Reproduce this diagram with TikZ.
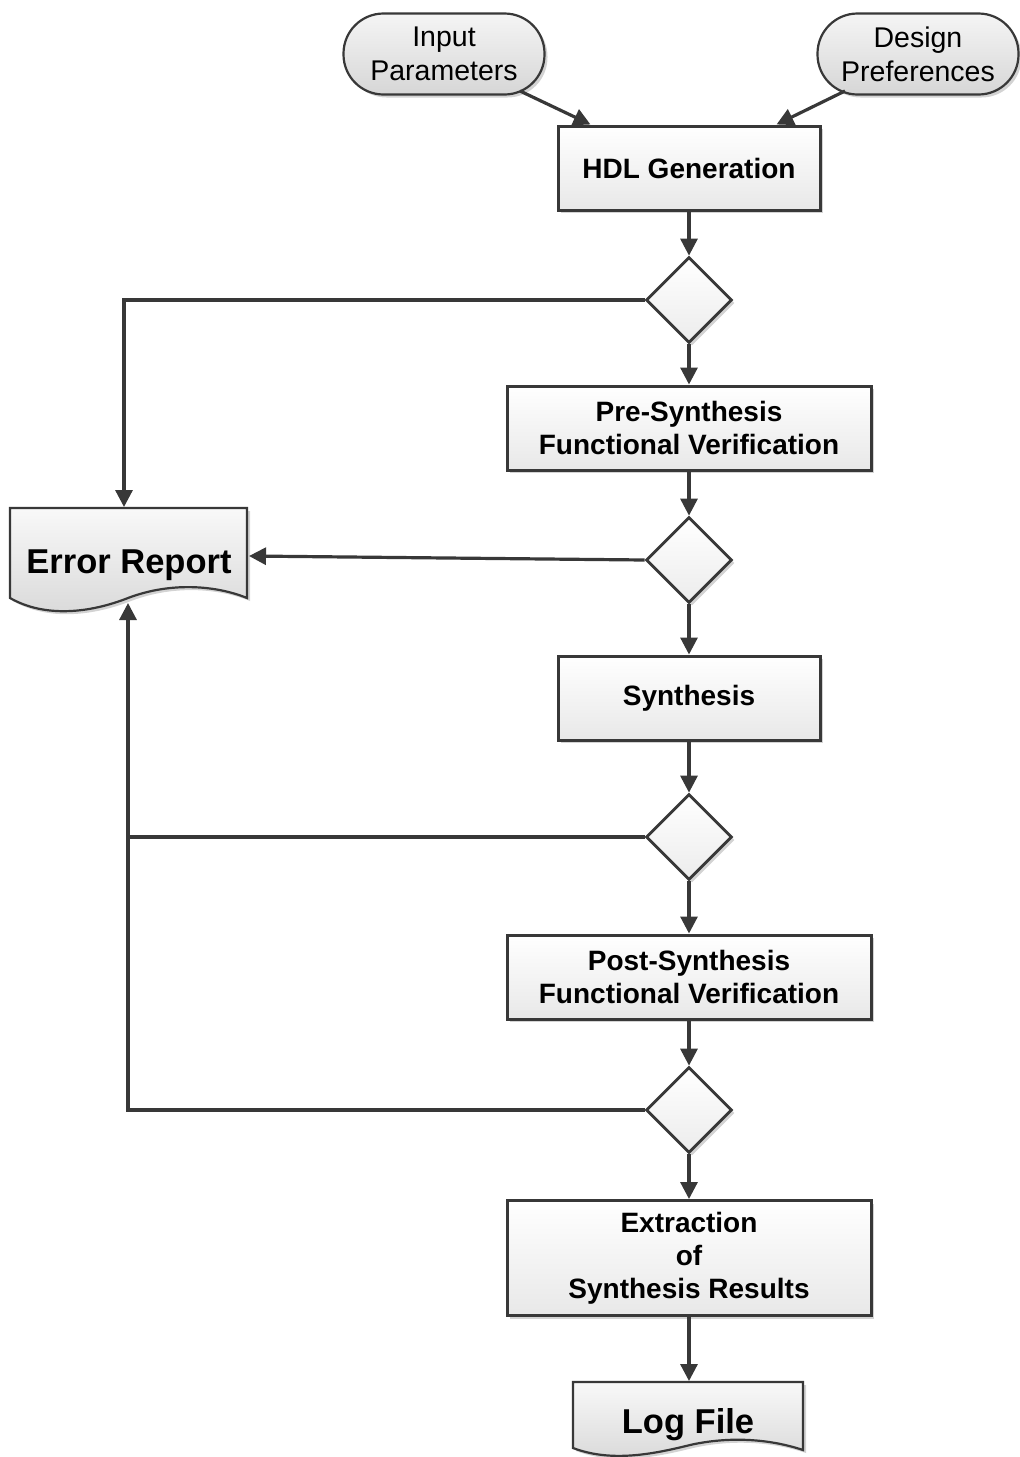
\documentclass[tikz,border=0pt]{standalone}
\usepackage{fontspec}
\setmainfont{Liberation Sans}
\usetikzlibrary{shapes.geometric,shadows,arrows.meta,calc}
\definecolor{ln}{HTML}{383838}
\begin{document}
\begin{tikzpicture}[x=1pt,y=-1pt,
  conn/.style={draw=ln, line width=3.2pt, -{Triangle[length=17pt,width=17pt]}},
  plainconn/.style={draw=ln, line width=3.2pt},
  shad/.style={drop shadow={opacity=0.35,shadow xshift=3pt,shadow yshift=-3pt}},
  procbox/.style={draw=ln, line width=3pt, top color=white, bottom color=gray!18, shad,
     align=center, inner sep=0pt, font=\fontsize{28}{33}\selectfont\bfseries},
  term/.style={draw=ln, line width=2.2pt, rounded corners=40pt, top color=gray!8, bottom color=gray!32, shad,
     align=center, inner sep=0pt, minimum width=201pt, minimum height=81pt, font=\fontsize{28.5}{34}\selectfont},
  decision/.style={diamond, aspect=1, draw=ln, line width=2.8pt, top color=white, bottom color=gray!15, shad,
     minimum width=86pt, minimum height=86pt, inner sep=0pt},
  docshape/.style={draw=ln, line width=2.2pt, top color=gray!5, bottom color=gray!30, shad},
  bigtext/.style={font=\fontsize{34.5}{40}\selectfont\bfseries}
]
\useasboundingbox (0,0) rectangle (1020,1457);

% terminals
\node[term] (inp) at (444,54) {Input\\Parameters};
\node[term] (pref) at (918,54) {Design\\Preferences};

% process boxes
\node[procbox, minimum width=262pt, minimum height=84pt] (hdl) at (689,168) {HDL Generation};
\node[decision] (d1) at (689,300) {};
\node[procbox, minimum width=364pt, minimum height=84pt] (pre) at (689,428) {Pre-Synthesis\\Functional Verification};
\node[decision] (d2) at (689,560) {};
\node[procbox, minimum width=262pt, minimum height=84pt] (syn) at (689,698) {Synthesis};
\node[decision] (d3) at (689,837) {};
\node[procbox, minimum width=364pt, minimum height=84pt] (post) at (689,977) {Post-Synthesis\\Functional Verification};
\node[decision] (d4) at (689,1110) {};
\node[procbox, minimum width=364pt, minimum height=115pt] (ext) at (689,1258) {Extraction\\of\\Synthesis Results};

% document shapes
\path[docshape] (10,508) -- (247,508) -- (247,598)
   .. controls (215,585) and (170,582) .. (128,598)
   .. controls (90,613) and (45,618) .. (10,598) -- cycle;
\node[bigtext] (err) at (129,565) {Error Report};
\coordinate (errT) at (124,507);
\coordinate (errE) at (249,556);
\coordinate (errB) at (128,603);

\path[docshape] (573,1382) -- (803,1382) -- (803,1450)
   .. controls (770,1439) and (730,1436) .. (690,1445)
   .. controls (650,1455) and (610,1462) .. (573,1448) -- cycle;
\node[bigtext] (log) at (688,1425) {Log File};
\coordinate (logT) at (689,1381);

% connectors
\draw[conn] ($(inp.center)+(76,37)$) -- ($(hdl.north west)+(34,0)$);
\draw[conn] ($(pref.center)+(-73,37)$) -- ($(hdl.north east)+(-45,0)$);
\draw[conn] (hdl.south) -- (d1.north);
\draw[conn] (d1.south) -- (pre.north);
\draw[conn] (pre.south) -- (d2.north);
\draw[conn] (d2.south) -- (syn.north);
\draw[conn] (syn.south) -- (d3.north);
\draw[conn] (d3.south) -- (post.north);
\draw[conn] (post.south) -- (d4.north);
\draw[conn] (d4.south) -- (ext.north);
\draw[conn] (ext.south) -- (logT);

\draw[conn] (d1.west) -| (errT);
\draw[conn] (d2.west) -- (errE);
\draw[conn] (d3.west) -| (errB);
\coordinate (j3) at (128,837);
\draw[plainconn] (d4.west) -| (j3);
\end{tikzpicture}
\end{document}
